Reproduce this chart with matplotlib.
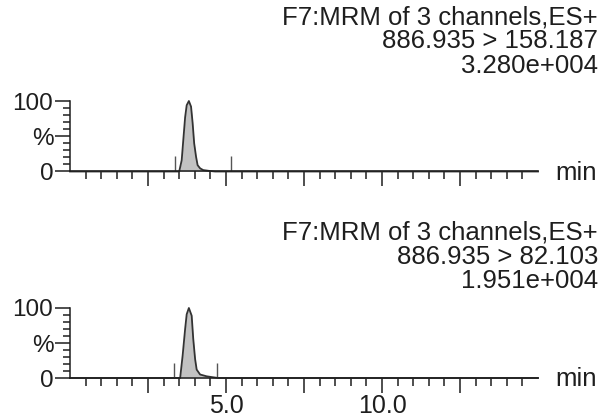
import numpy as np
import matplotlib
matplotlib.use('Agg')
import matplotlib.pyplot as plt
from matplotlib.ticker import FixedLocator, FuncFormatter

plt.rcParams['font.family'] = ['Liberation Sans', 'DejaVu Sans']

# chromatogram traces (time in min, intensity in %)
t_top = [0.0, 3.50, 3.58, 3.63, 3.69, 3.74, 3.81, 3.88, 3.93, 3.98, 4.04,
         4.09, 4.17, 4.27, 4.49, 4.65, 15.0]
y_top = [0.0, 0.0, 16, 44, 77, 94, 100, 92, 69, 40, 21,
         9, 4.5, 2.0, 0.7, 0.0, 0.0]

t_bot = [0.0, 3.53, 3.61, 3.69, 3.74, 3.81, 3.90, 3.95, 4.01, 4.06,
         4.17, 4.38, 4.59, 4.75, 15.0]
y_bot = [0.0, 0.0, 32, 70, 91, 100, 89, 56, 27, 12,
         5, 2.4, 1.0, 0.0, 0.0]

# integration markers (min)
marks_top = [3.37, 5.15]
marks_bot = [3.33, 4.71]
mark_height = 22

headers_top = ['F7:MRM of 3 channels,ES+', '886.935 > 158.187', '3.280e+004']
headers_bot = ['F7:MRM of 3 channels,ES+', '886.935 > 82.103', '1.951e+004']

x_major = [2.5, 5.0, 7.5, 10.0, 12.5]
x_minor = [0.5 * i for i in range(1, 30)]
x_labels = {5.0: '5.0', 10.0: '10.0'}
y_major = [0, 50, 100]
y_labels = ['0', '%', '100']
y_minor = list(range(10, 100, 10))

W, H = 605, 419
fig = plt.figure(figsize=(W / 100, H / 100), dpi=100)

ink = '#1e1e1e'
fs = 18.5


def make_axes(y0, y100, show_labels):
    ax = fig.add_axes([70 / W, 1 - y0 / H, (538 - 70) / W, (y0 - y100) / H])
    ax.set_xlim(0, 15)
    ax.set_ylim(0, 100)
    for s in ['top', 'right']:
        ax.spines[s].set_visible(False)
    for s in ['left', 'bottom']:
        ax.spines[s].set_linewidth(1.1)
        ax.spines[s].set_color(ink)
    ax.xaxis.set_major_locator(FixedLocator(x_major))
    ax.xaxis.set_minor_locator(FixedLocator(x_minor))
    if show_labels:
        ax.xaxis.set_major_formatter(FuncFormatter(lambda v, p: x_labels.get(round(v, 1), '')))
    else:
        ax.set_xticklabels([])
    ax.yaxis.set_major_locator(FixedLocator(y_major))
    ax.yaxis.set_minor_locator(FixedLocator(y_minor))
    ax.set_yticklabels(y_labels)
    ax.tick_params(axis='x', which='major', length=11, width=1.1, color=ink,
                   labelsize=fs - 0.5, pad=0.3, labelcolor=ink)
    ax.tick_params(axis='x', which='minor', length=5.8, width=1.1, color=ink)
    ax.tick_params(axis='y', which='major', length=11, width=1.1, color=ink,
                   labelsize=fs - 1, pad=1, labelcolor=ink)
    ax.tick_params(axis='y', which='minor', length=5, width=1.1, color=ink)
    return ax


ax1 = make_axes(171.5, 101, False)
ax2 = make_axes(378, 308, True)

for ax, t, y, marks in [(ax1, t_top, y_top, marks_top), (ax2, t_bot, y_bot, marks_bot)]:
    ax.fill_between(t, y, 0, color='#c2c2c2', lw=0, clip_on=False)
    ax.plot(t, y, color='#333333', lw=1.3, clip_on=False)
    ax.vlines(marks, 0, mark_height, color='#555555', lw=1.0)

# header text blocks, right aligned
for lines, base in [(headers_top, 24), (headers_bot, 239)]:
    for i, txt in enumerate(lines):
        fig.text(598 / W, 1 - (base + 24.5 * i) / H, txt, ha='right', va='baseline',
                 fontsize=fs, color=ink)

fig.text(555 / W, 1 - 179.5 / H, 'min', ha='left', va='baseline', fontsize=fs, color=ink)
fig.text(555 / W, 1 - 386 / H, 'min', ha='left', va='baseline', fontsize=fs, color=ink)

fig.savefig('out.png', dpi=100)
